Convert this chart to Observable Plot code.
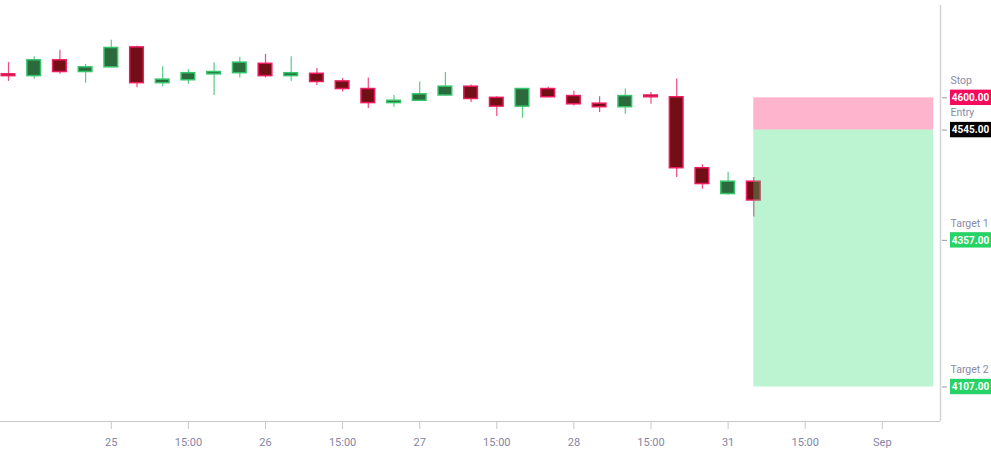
<!DOCTYPE html>
<html>
<head>
<meta charset="utf-8">
<script src="https://cdn.jsdelivr.net/npm/d3@7"></script>
<script src="https://cdn.jsdelivr.net/npm/@observablehq/plot@0.6"></script>
<style>
  html, body { margin: 0; padding: 0; background: #fff; }
  #chart { width: 991px; height: 451px; }
  svg { font-family: Roboto, "Noto Sans", sans-serif; }
</style>
</head>
<body>
<div id="chart"></div>
<script>
// Candle data (index-based time axis; weekend gap removed)
const opens  = [4640,4637,4664,4644,4652,4686,4625,4630,4640,4642,4658,4637,4641,4628,4615,4591,4595,4604,4619,4600,4585,4615,4603,4590,4584,4604,4601,4480,4436,4457];
const highs  = [4660,4670,4681,4657,4698,4688,4653,4648,4660,4669,4674,4670,4650,4633,4634,4604,4627,4643,4622,4602,4616,4618,4611,4602,4615,4609,4632,4486,4473,4464];
const lows   = [4628,4632,4640,4625,4652,4617,4619,4623,4604,4634,4634,4628,4621,4610,4582,4584,4594,4603,4592,4568,4565,4600,4586,4575,4572,4589,4464,4444,4434,4397];
const closes = [4637,4664,4644,4652,4685,4625,4631,4642,4644,4660,4637,4642,4627,4615,4591,4595,4606,4619,4598,4585,4615,4601,4589,4584,4603,4601,4480,4453,4457,4425];

// x-axis tick positions (candle index) and labels
const tickIndex  = [4, 7, 10, 13, 16, 19, 22, 25, 28, 31, 34];
const tickLabels = ["25", "15:00", "26", "15:00", "27", "15:00", "28", "15:00", "31", "15:00", "Sep"];

// Trade levels
const levelNames  = ["Stop", "Entry", "Target 1", "Target 2"];
const levelValues = [4600, 4545, 4357, 4107];
const levelColors = ["#f50a5c", "#000000", "#27d366", "#27d366"];
const stopPrice = 4600, entryPrice = 4545, finalTarget = 4107;
const zoneStart = 29, zoneEnd = 36;

const candles = opens.map((o, i) => ({i, open: o, high: highs[i], low: lows[i], close: closes[i], up: closes[i] >= o}));
const levels = levelNames.map((n, k) => ({name: n, value: levelValues[k], color: levelColors[k]}));
const zones = [
  {x1: zoneStart, x2: zoneEnd, y1: entryPrice, y2: stopPrice, fill: "#f91c64"},
  {x1: zoneStart, x2: zoneEnd, y1: finalTarget, y2: entryPrice, fill: "#33dd77"}
];
const tickMap = new Map(tickIndex.map((t, k) => [t, tickLabels[k]]));

const xDomain = [-0.3113, 36.2646];
const yDomain = [4048.2, 4757.4];
const xMax = xDomain[1];
const half = 0.265;

const chart = Plot.plot({
  width: 991,
  height: 451,
  marginLeft: 0,
  marginRight: 51,
  marginTop: 5,
  marginBottom: 30,
  style: {fontFamily: "Roboto, 'Noto Sans', sans-serif", background: "#fff"},
  x: {type: "linear", domain: xDomain, axis: null},
  y: {domain: yDomain, axis: null},
  marks: [
    // wicks
    Plot.ruleX(candles, {x: "i", y1: "low", y2: "high", stroke: d => d.up ? "#3cc46c" : "#ee2a68", strokeWidth: 1.2, strokeOpacity: 0.85}),
    // bodies
    Plot.rect(candles, {
      x1: d => d.i - half, x2: d => d.i + half,
      y1: d => Math.min(d.open, d.close), y2: d => Math.max(d.open, d.close),
      fill: d => d.up ? "#2a6a3c" : "#720e16",
      stroke: d => d.up ? "#34c46a" : "#ee1c5e",
      strokeWidth: 1.5
    }),
    // risk / reward zones
    Plot.rect(zones, {x1: "x1", x2: "x2", y1: "y1", y2: "y2", fill: "fill", fillOpacity: 0.33}),
    // bottom axis line and right axis line
    Plot.ruleY([yDomain[0]], {stroke: "#c8c8cc", strokeWidth: 1}),
    Plot.ruleX([xMax], {stroke: "#d4d4d8", strokeWidth: 1.5}),
    // x ticks
    Plot.axisX(tickIndex, {
      anchor: "bottom",
      tickSize: 8,
      tickPadding: 9,
      stroke: "#c8c8cc",
      fill: "#8585a6",
      fontSize: 11,
      tickFormat: d => tickMap.get(d)
    }),
    // right level ticks
    Plot.ruleY(levels, {y: "value", x1: xMax, x2: xMax, insetLeft: 2, insetRight: -7, stroke: "#9a9aa8", strokeWidth: 1}),
    // level boxes
    Plot.rect(levels, {y1: "value", y2: "value", x1: xMax, x2: xMax, insetLeft: 10, insetRight: -60, insetTop: -7.7, insetBottom: -7.7, fill: "color"}),
    // level values
    Plot.text(levels, {x: xMax, y: "value", dx: 30, text: d => d.value.toFixed(2), fill: "#fff", fontWeight: "bold", fontSize: 10, textAnchor: "middle"}),
    // level names
    Plot.text(levels, {x: xMax, y: "value", dx: 10, dy: -17, text: "name", fill: "#8a8aa4", fontSize: 10.5, textAnchor: "start"})
  ]
});
document.getElementById("chart").appendChild(chart);
</script>
</body>
</html>
